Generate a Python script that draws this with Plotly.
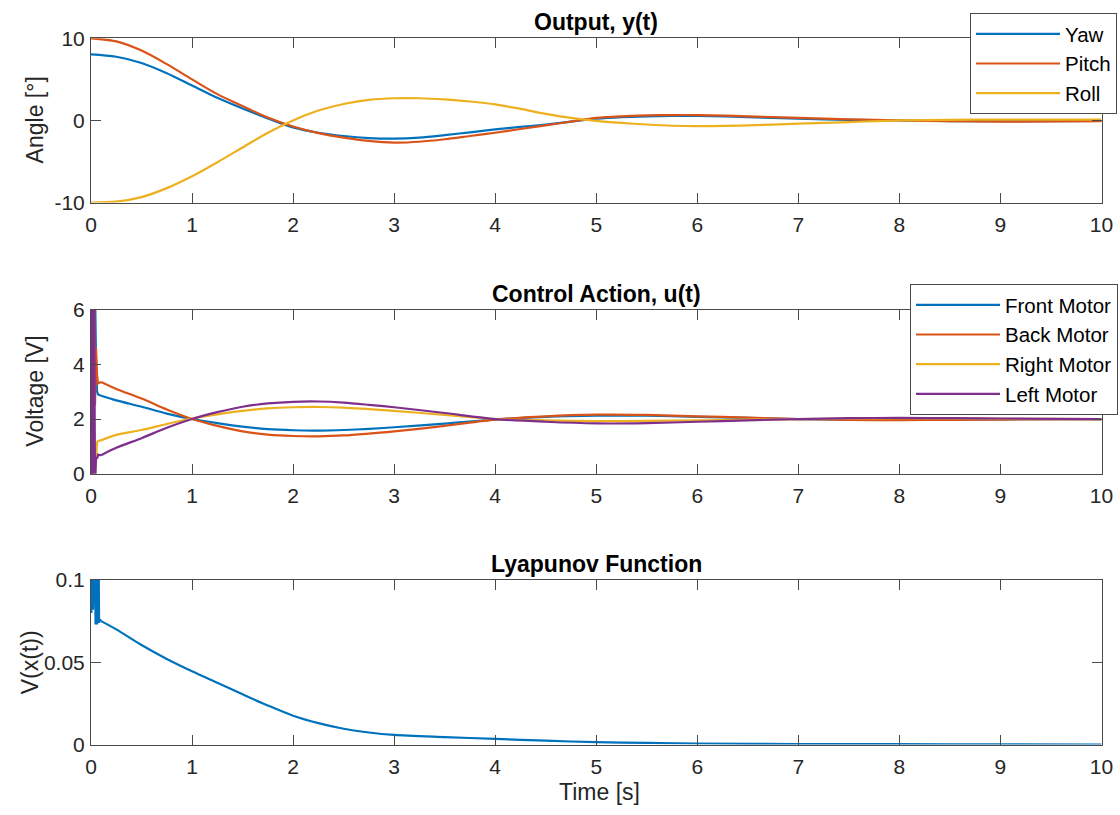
import plotly.graph_objects as go

# ---------------- data ----------------
t_out = [0, 0.25, 0.5, 0.75, 1.0, 1.25, 1.5, 1.75, 2.0, 2.25, 2.5, 2.75, 3.0, 3.25,
         3.5, 3.75, 4.0, 4.25, 4.5, 4.75, 5.0, 5.25, 5.5, 5.75, 6.0, 6.5, 7.0, 7.5,
         8.0, 8.5, 9.0, 9.5, 10.0]
yaw = [8.05, 7.75, 7.0, 5.75, 4.25, 2.75, 1.45, 0.25, -0.85, -1.5, -1.9, -2.15, -2.22,
       -2.1, -1.8, -1.45, -1.1, -0.8, -0.5, -0.15, 0.2, 0.4, 0.5, 0.55, 0.55, 0.4,
       0.2, 0.07, 0.0, -0.08, -0.1, -0.08, -0.05]
pitch = [10.0, 9.62, 8.5, 6.85, 5.0, 3.2, 1.75, 0.35, -0.75, -1.55, -2.1, -2.5, -2.7,
         -2.6, -2.3, -1.9, -1.5, -1.05, -0.6, -0.15, 0.3, 0.5, 0.6, 0.65, 0.65, 0.5,
         0.3, 0.12, 0.0, -0.1, -0.15, -0.12, -0.1]
roll = [-10.0, -9.9, -9.35, -8.25, -6.8, -5.1, -3.3, -1.5, 0.0, 1.2, 2.0, 2.5, 2.7,
        2.7, 2.55, 2.3, 1.95, 1.4, 0.8, 0.3, -0.05, -0.3, -0.5, -0.65, -0.7, -0.6,
        -0.4, -0.2, 0.0, 0.07, 0.1, 0.1, 0.1]

# first N_FAST samples are the fast start-up transient (drawn with straight segments)
N_FAST = 12
t_u = [0, 0.005, 0.01, 0.015, 0.02, 0.03, 0.04, 0.05, 0.06, 0.07, 0.08, 0.1,
       0.25, 0.5, 0.75, 1.0, 1.25, 1.5, 1.75, 2.0, 2.25, 2.5, 2.75, 3.0, 3.5,
       4.0, 4.5, 5.0, 5.5, 6.0, 6.5, 7.0, 7.5, 8.0, 8.5, 9.0, 10.0]
front = [3.7, 3.1, 7.0, 3.3, 6.5, 3.5, 6.8, 4.0, 3.0, 2.9, 2.88, 2.85,
         2.68, 2.45, 2.2, 2.0, 1.85, 1.72, 1.63, 1.59, 1.58, 1.6, 1.64, 1.7, 1.83,
         1.98, 2.08, 2.12, 2.12, 2.08, 2.04, 2.0, 1.98, 1.97, 1.98, 1.99, 2.0]
back = [5.5, 8.0, 2.0, 7.5, 3.0, 7.0, 2.5, 4.6, 3.6, 3.3, 3.32, 3.35,
        3.1, 2.75, 2.35, 2.0, 1.75, 1.55, 1.43, 1.38, 1.37, 1.4, 1.47, 1.55, 1.75,
        1.98, 2.1, 2.16, 2.15, 2.1, 2.05, 2.0, 1.97, 1.96, 1.97, 1.98, 2.0]
right = [0.9, 0.5, -1.0, 2.0, -0.5, 1.5, 0.4, 0.6, 1.15, 1.2, 1.2, 1.22,
         1.42, 1.6, 1.82, 2.02, 2.17, 2.3, 2.39, 2.43, 2.44, 2.42, 2.36, 2.3, 2.15,
         2.0, 1.95, 1.92, 1.93, 1.95, 1.98, 2.0, 2.02, 2.03, 2.02, 2.01, 2.0]
left = [0.5, 7.0, -1.0, 7.0, -1.0, 7.0, -0.5, 0.6, 0.55, 0.7, 0.68, 0.68,
        0.95, 1.3, 1.68, 2.0, 2.25, 2.45, 2.57, 2.63, 2.64, 2.6, 2.52, 2.43, 2.22,
        2.0, 1.9, 1.84, 1.85, 1.9, 1.95, 2.0, 2.03, 2.04, 2.03, 2.02, 2.0]

V_FAST = 15
t_v = [0, 0.003, 0.008, 0.015, 0.02, 0.03, 0.04, 0.045, 0.05, 0.06, 0.065, 0.075,
       0.08, 0.09, 0.1, 0.25, 0.5, 0.75, 1.0, 1.25, 1.5, 1.75, 2.0, 2.25, 2.5,
       2.75, 3.0, 3.5, 4.0, 4.5, 5.0, 5.5, 6.0, 7.0, 8.0, 9.0, 10.0]
lyap = [0.12, 0.08, 0.12, 0.12, 0.082, 0.12, 0.12, 0.073, 0.12, 0.073, 0.12, 0.12,
        0.074, 0.076, 0.075, 0.070, 0.0605, 0.052, 0.0445, 0.0375, 0.0305, 0.0237,
        0.0175, 0.0130, 0.0096, 0.0073, 0.0058, 0.0045, 0.0034, 0.0023, 0.0014,
        0.0010, 0.0006, 0.0003, 0.0002, 0.0001, 0.0]

x_ticks = [0, 1, 2, 3, 4, 5, 6, 7, 8, 9, 10]
y1_ticks, y1_text = [-10, 0, 10], ["-10", "0", "10"]
y2_ticks, y2_text = [0, 2, 4, 6], ["0", "2", "4", "6"]
y3_ticks, y3_text = [0, 0.05, 0.1], ["0", "0.05", "0.1"]

titles = ["Output, y(t)", "Control Action, u(t)", "Lyapunov Function"]
ylabels = ["Angle [°]", "Voltage [V]", "V(x(t))"]
xlabel = "Time [s]"

C_BLUE, C_RED, C_YEL, C_PUR = "#0072BD", "#D95319", "#EDB120", "#7E2F8E"

# ---------------- figure ----------------
W, H = 1120, 815
FONT = "Liberation Sans, Arial, Helvetica, sans-serif"
TXT = "#262626"
AX = "#4a4a4a"

xdom = [91 / W, 1101.5 / W]
ydoms = [[1 - 202.5 / H, 1 - 38.3 / H],
         [1 - 473.8 / H, 1 - 309.5 / H],
         [1 - 744.5 / H, 1 - 580.0 / H]]

fig = go.Figure()
lw = 2.2

for name, vals, col in [("Yaw", yaw, C_BLUE), ("Pitch", pitch, C_RED), ("Roll", roll, C_YEL)]:
    fig.add_trace(go.Scatter(x=t_out, y=vals, name=name, mode="lines",
                             line=dict(color=col, width=lw, shape="spline", smoothing=0.9),
                             xaxis="x", yaxis="y", legend="legend"))

for name, vals, col in [("Front Motor", front, C_BLUE), ("Back Motor", back, C_RED),
                        ("Right Motor", right, C_YEL), ("Left Motor", left, C_PUR)]:
    fig.add_trace(go.Scatter(x=t_u[:N_FAST], y=vals[:N_FAST], name=name, mode="lines",
                             line=dict(color=col, width=lw), showlegend=False,
                             xaxis="x2", yaxis="y2", legend="legend2"))
    fig.add_trace(go.Scatter(x=t_u[N_FAST - 1:], y=vals[N_FAST - 1:], name=name, mode="lines",
                             line=dict(color=col, width=lw, shape="spline", smoothing=0.8),
                             xaxis="x2", yaxis="y2", legend="legend2"))

fig.add_trace(go.Scatter(x=t_v[:V_FAST], y=lyap[:V_FAST], mode="lines", showlegend=False,
                         line=dict(color=C_BLUE, width=lw), xaxis="x3", yaxis="y3"))
fig.add_trace(go.Scatter(x=t_v[V_FAST - 1:], y=lyap[V_FAST - 1:], mode="lines", showlegend=False,
                         line=dict(color=C_BLUE, width=lw, shape="spline", smoothing=0.8),
                         xaxis="x3", yaxis="y3"))

def xax(anchor):
    return dict(domain=xdom, anchor=anchor, range=[0, 10], tickvals=x_ticks,
                ticktext=[str(v) for v in x_ticks], ticks="inside", ticklen=10,
                tickcolor=AX, showline=True, linecolor=AX, linewidth=1,
                mirror="ticks", showgrid=False, zeroline=False, automargin=False,
                ticklabelstandoff=3,
                tickfont=dict(size=21, color=TXT, family=FONT))

def yax(anchor, dom, rng, tv, tt):
    return dict(domain=dom, anchor=anchor, range=rng, tickvals=tv, ticktext=tt,
                ticks="inside", ticklen=10, tickcolor=AX, showline=True,
                linecolor=AX, linewidth=1, mirror="ticks", showgrid=False,
                zeroline=False, automargin=False, ticklabelstandoff=1,
                tickfont=dict(size=21, color=TXT, family=FONT))

fig.update_layout(
    width=W, height=H,
    margin=dict(l=0, r=0, t=0, b=0, pad=0, autoexpand=False),
    paper_bgcolor="white", plot_bgcolor="white",
    font=dict(family=FONT, color=TXT),
    xaxis=xax("y"), yaxis=yax("x", ydoms[0], [-10, 10], y1_ticks, y1_text),
    xaxis2=xax("y2"), yaxis2=yax("x2", ydoms[1], [0, 6], y2_ticks, y2_text),
    xaxis3=xax("y3"), yaxis3=yax("x3", ydoms[2], [0, 0.1], y3_ticks, y3_text),
    legend=dict(x=1117 / W, y=1 - 13 / H, xanchor="right", yanchor="top",
                bgcolor="white", bordercolor=AX, borderwidth=1,
                font=dict(size=20.5, color="black", family=FONT), itemwidth=84),
    legend2=dict(x=1118 / W, y=1 - 284 / H, xanchor="right", yanchor="top",
                 bgcolor="white", bordercolor=AX, borderwidth=1,
                 font=dict(size=20.5, color="black", family=FONT), itemwidth=84),
    showlegend=True,
)

anns = []
for i, tt in enumerate(titles):
    anns.append(dict(text="<b>" + tt + "</b>", xref="paper", yref="paper",
                     x=(xdom[0] + xdom[1]) / 2, y=ydoms[i][1], xanchor="center",
                     yanchor="bottom", yshift=1, showarrow=False,
                     font=dict(size=23, color="black", family=FONT)))
label_x = [35, 35, 30]
for i, lb in enumerate(ylabels):
    anns.append(dict(text=lb, xref="paper", yref="paper", x=label_x[i] / W,
                     y=(ydoms[i][0] + ydoms[i][1]) / 2, xanchor="center",
                     yanchor="middle", textangle=-90, showarrow=False,
                     font=dict(size=23, color=TXT, family=FONT)))
anns.append(dict(text=xlabel, xref="paper", yref="paper", x=599 / W, y=1 - 792 / H,
                 xanchor="center", yanchor="middle", showarrow=False,
                 font=dict(size=23, color=TXT, family=FONT)))
fig.update_layout(annotations=anns)

fig.write_html("out.html")
